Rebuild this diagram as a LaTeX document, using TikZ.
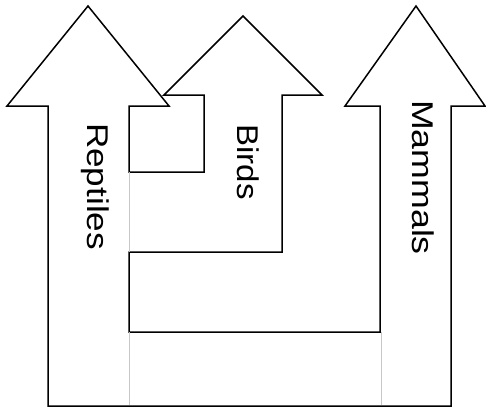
\documentclass[tikz,border=0pt]{standalone}
\usepackage{fontspec}
\setmainfont{Liberation Sans}
\begin{document}
\begin{tikzpicture}[x=1pt,y=-1pt,
  outline/.style={draw=black,line width=1.5pt,line join=miter},
  seam/.style={draw=black!22,line width=1pt},
  label/.style={rotate=-90,anchor=base,inner sep=0pt,font=\fontsize{30}{36}\selectfont}]
\useasboundingbox (0,0) rectangle (486,408);
\draw[outline] (48,406) -- (48,106) -- (7,106) -- (88,6) -- (169,106) -- (129,106)
  -- (129,172) -- (204,172) -- (204,95) -- (164,95) -- (243,16) -- (322,95)
  -- (282,95) -- (282,252) -- (129,252) -- (129,332) -- (380,332) -- (380,106)
  -- (345,106) -- (416,6) -- (485,106) -- (451,106) -- (451,406) -- cycle;
\draw[seam] (129,172) -- (129,252);
\draw[seam] (129,332) -- (129,405);
\draw[seam] (381,332) -- (381,405);
\node[label] (reptiles) at (87.7,186.5) {\scalebox{1.17}[1]{Reptiles}};
\node[label] (birds) at (237.7,162) {\scalebox{1.1}[1]{Birds}};
\node[label] (mammals) at (412.7,177.5) {\scalebox{1.19}[1]{Mammals}};
\end{tikzpicture}
\end{document}
